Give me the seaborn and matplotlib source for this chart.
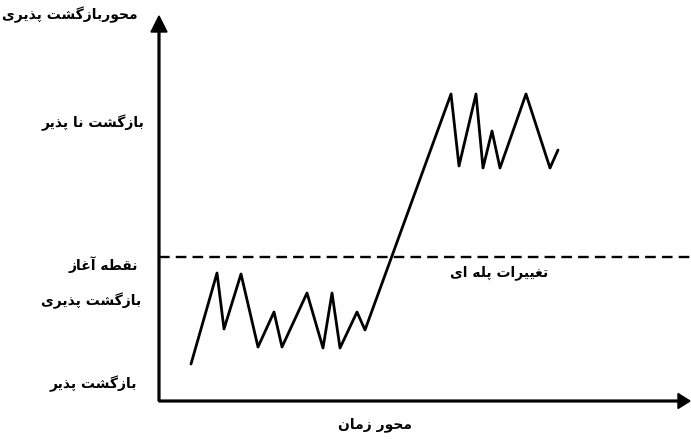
import numpy as np
import pandas as pd
import matplotlib
matplotlib.use("Agg")
import matplotlib.pyplot as plt
import seaborn as sns

# ---------------- data ----------------
time_vals = [32, 58, 65, 82, 99, 115, 123, 148, 164, 173, 181, 198, 206,
             292, 300, 317, 324, 333, 341, 367, 391, 399]
level_vals = [37, 128, 72, 127, 54, 89, 54, 108, 53, 108, 53, 89, 71,
              307, 235, 307, 233, 270, 233, 307, 233, 251]
threshold_level = 144
threshold_span = [0, 532]

y_axis_title = "محوربازگشت پذیری"
x_axis_title = "محور زمان"
label_irreversible = "بازگشت نا پذیر"
label_start_1 = "نقطه آغاز"
label_start_2 = "بازگشت پذیری"
label_reversible = "بازگشت پذیر"
label_step = "تغییرات پله ای"

# ------------- simple Arabic/Persian shaping -------------
DUAL = {
    'ب': (0xFE8F, 0xFE90, 0xFE91, 0xFE92), 'پ': (0xFB56, 0xFB57, 0xFB58, 0xFB59),
    'ت': (0xFE95, 0xFE96, 0xFE97, 0xFE98), 'ح': (0xFEA1, 0xFEA2, 0xFEA3, 0xFEA4),
    'ش': (0xFEB5, 0xFEB6, 0xFEB7, 0xFEB8), 'ط': (0xFEC1, 0xFEC2, 0xFEC3, 0xFEC4),
    'غ': (0xFECD, 0xFECE, 0xFECF, 0xFED0), 'ق': (0xFED5, 0xFED6, 0xFED7, 0xFED8),
    'گ': (0xFB92, 0xFB93, 0xFB94, 0xFB95), 'ک': (0xFB8E, 0xFB8F, 0xFB90, 0xFB91),
    'ل': (0xFEDD, 0xFEDE, 0xFEDF, 0xFEE0), 'م': (0xFEE1, 0xFEE2, 0xFEE3, 0xFEE4),
    'ن': (0xFEE5, 0xFEE6, 0xFEE7, 0xFEE8), 'ه': (0xFEE9, 0xFEEA, 0xFEEB, 0xFEEC),
    'ی': (0xFBFC, 0xFBFD, 0xFBFE, 0xFBFF),
}
RIGHT = {
    'ا': (0xFE8D, 0xFE8E), 'آ': (0xFE81, 0xFE82), 'ذ': (0xFEAB, 0xFEAC),
    'ر': (0xFEAD, 0xFEAE), 'ز': (0xFEAF, 0xFEB0), 'و': (0xFEED, 0xFEEE),
}


def shape(s):
    out = []
    for i, c in enumerate(s):
        prev = s[i - 1] if i > 0 else ''
        nxt = s[i + 1] if i + 1 < len(s) else ''
        pj = prev in DUAL
        if c in DUAL:
            nj = (nxt in DUAL) or (nxt in RIGHT)
            f = DUAL[c]
            idx = 3 if (pj and nj) else 1 if pj else 2 if nj else 0
            out.append(chr(f[idx]))
        elif c in RIGHT:
            f = RIGHT[c]
            out.append(chr(f[1] if pj else f[0]))
        else:
            out.append(c)
    return ''.join(reversed(out))


# ---------------- figure ----------------
sns.set_theme(style="white")
plt.rcParams['font.family'] = ['DejaVu Sans']

fig = plt.figure(figsize=(6.91, 4.43), dpi=100)
ax = fig.add_axes([0, 0, 1, 1])
ax.set_xlim(-159, 532)
ax.set_ylim(-42, 401)
ax.axis('off')

df = pd.DataFrame({"time": time_vals, "level": level_vals})
sns.lineplot(data=df, x="time", y="level", sort=False, color="black",
             linewidth=2.0, ax=ax, estimator=None)

ax.plot(threshold_span, [threshold_level, threshold_level], color="black",
        linewidth=1.7, linestyle=(0, (4.5, 2.6)))

# axes with arrows
ax.arrow(0, 0, 0, 385, width=1.8, head_width=16, head_length=16,
         length_includes_head=True, color="black")
ax.arrow(0, 0, 531, 0, width=1.8, head_width=15, head_length=12,
         length_includes_head=True, color="black")

tkw = dict(fontsize=10, fontweight="bold", color="black")
ax.text(-21, 386, shape(y_axis_title), ha="right", va="center", **tkw)
ax.text(-15, 278, shape(label_irreversible), ha="right", va="center", **tkw)
ax.text(-21, 136, shape(label_start_1), ha="right", va="center", **tkw)
ax.text(-18, 100, shape(label_start_2), ha="right", va="center", **tkw)
ax.text(-22, 17, shape(label_reversible), ha="right", va="center", **tkw)
ax.text(216, -24, shape(x_axis_title), ha="center", va="center", **tkw)
ax.text(340, 128, shape(label_step), ha="center", va="center", **tkw)

fig.savefig("out.png", dpi=100)
